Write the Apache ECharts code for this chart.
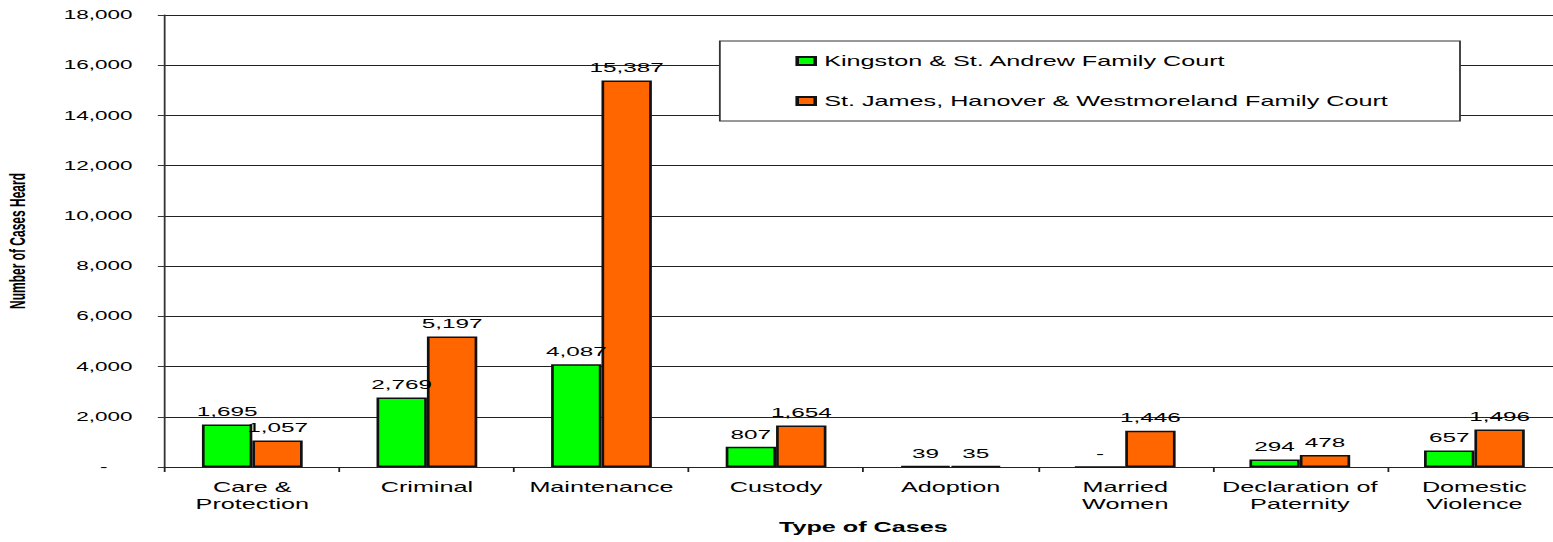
<!DOCTYPE html>
<html>
<head>
<meta charset="utf-8">
<script src="https://cdn.jsdelivr.net/npm/echarts@6/dist/echarts.min.js"></script>
<style>
  html, body { margin: 0; padding: 0; background: #fff; overflow: hidden; }
  #wrap { width: 1553px; height: 542px; overflow: hidden; }
  #chart { width: 863px; height: 542px; transform: scaleX(1.7996); transform-origin: 0 0; }
</style>
</head>
<body>
<div id="wrap"><div id="chart"></div></div>
<script>
const categories = ['Care &\nProtection', 'Criminal', 'Maintenance', 'Custody', 'Adoption', 'Married\nWomen', 'Declaration of\nPaternity', 'Domestic\nViolence'];
const seriesNames = ['Kingston & St. Andrew Family Court', 'St. James, Hanover & Westmoreland Family Court'];
const kingston = [1695, 2769, 4087, 807, 39, 0, 294, 657];
const stJames = [1057, 5197, 15387, 1654, 35, 1446, 478, 1496];
const yMin = 0, yMax = 18000, yStep = 2000;

const font = 'Liberation Sans, Arial, sans-serif';
const fmt = v => v === 0 ? '-' : Math.round(v).toLocaleString('en-US');

const chart = echarts.init(document.getElementById('chart'), null, { renderer: 'svg' });
const barLabel = {
  show: true, position: 'top', distance: 6,
  fontSize: 13.5, color: '#000', fontFamily: font,
  formatter: p => fmt(p.value)
};
chart.setOption({
  animation: false,
  textStyle: { fontFamily: font },
  grid: { left: 91.7, right: -4.8, top: 15, bottom: 75, outerBoundsMode: 'none', containLabel: false },
  legend: {
    orient: 'vertical', left: 400, top: 41,
    icon: 'rect',
    itemWidth: 10, itemHeight: 8, itemGap: 26,
    padding: [13, 40, 13, 42],
    backgroundColor: '#fff', borderColor: '#333', borderWidth: 1,
    textStyle: { fontSize: 14, color: '#000', fontFamily: font },
    data: seriesNames
  },
  xAxis: {
    type: 'category', data: categories,
    name: 'Type of Cases', nameLocation: 'middle', nameGap: 53,
    nameTextStyle: { fontSize: 14, fontWeight: 'bold', color: '#000', fontFamily: font },
    axisLine: { lineStyle: { color: '#222', width: 1 } },
    axisTick: { show: true, length: 5, lineStyle: { color: '#222' } },
    axisLabel: { margin: 12, fontSize: 14, lineHeight: 16.5, color: '#000', interval: 0, fontFamily: font }
  },
  yAxis: {
    type: 'value', min: yMin, max: yMax, interval: yStep,
    name: 'Number of Cases Heard', nameLocation: 'middle', nameGap: 76,
    nameTextStyle: { fontSize: 12, fontWeight: 'bold', color: '#000', fontFamily: font },
    axisLine: { show: true, lineStyle: { color: '#333', width: 1 } },
    axisTick: { show: true, length: 4, lineStyle: { color: '#333' } },
    splitLine: { show: true, lineStyle: { color: '#222', width: 1 } },
    axisLabel: {
      margin: 18, fontSize: 12.5, color: '#000', fontFamily: font,
      formatter: v => v === 0 ? '{d|-}' : fmt(v),
      rich: { d: { fontSize: 12.5, color: '#000', padding: [0, 14, 0, 0], fontFamily: font } }
    }
  },
  series: [
    {
      name: seriesNames[0], type: 'bar', data: kingston,
      barWidth: 28, barGap: '0%',
      itemStyle: { color: '#00FF00', borderColor: '#111', borderWidth: 1.5 },
      label: barLabel
    },
    {
      name: seriesNames[1], type: 'bar', data: stJames,
      barWidth: 28, barGap: '0%',
      itemStyle: { color: '#FF6600', borderColor: '#111', borderWidth: 1.5 },
      label: barLabel
    }
  ]
});
</script>
</body>
</html>
